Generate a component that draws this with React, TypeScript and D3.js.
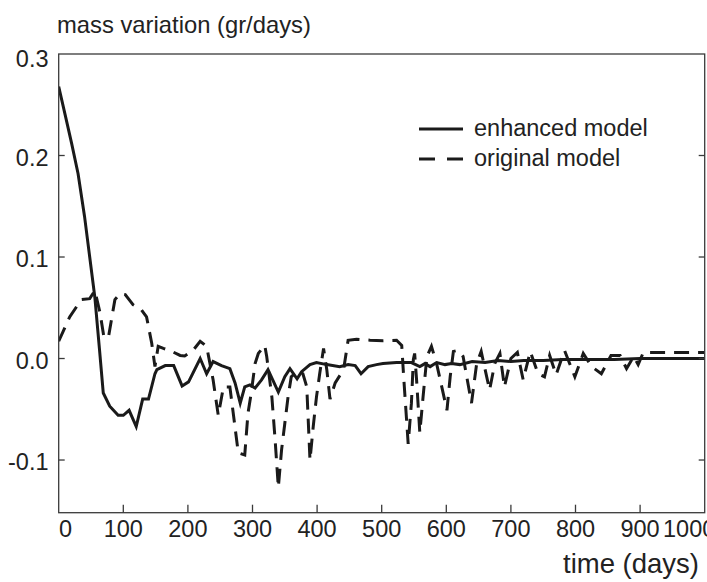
import React from "react";
import * as d3 from "d3";

const enhancedT = [0,10,20,30,40,48,56,63,69,79,92,100,109,120,130,139,149,152,165,178,191,201,219,229,239,252,265,273,281,288,296,304,314,324,340,350,358,369,376,389,399,415,435,448,459,468,479,492,502,523,546,559,567,575,585,598,608,621,640,660,680,700,720,750,780,820,860,900,950,1000];
const enhancedV = [0.268,0.24,0.212,0.182,0.14,0.10,0.06,0.01,-0.034,-0.047,-0.056,-0.056,-0.051,-0.067,-0.040,-0.040,-0.015,-0.011,-0.007,-0.007,-0.027,-0.023,0.0,-0.015,-0.003,-0.007,-0.010,-0.024,-0.044,-0.028,-0.026,-0.029,-0.021,-0.011,-0.033,-0.018,-0.010,-0.020,-0.013,-0.006,-0.004,-0.006,-0.008,-0.006,-0.007,-0.015,-0.008,-0.006,-0.005,-0.004,-0.004,-0.008,-0.005,-0.008,-0.004,-0.006,-0.005,-0.006,-0.003,-0.004,-0.002,-0.003,-0.002,-0.002,-0.001,-0.001,-0.001,0.0,0.0,0.0];

const originalT = [0,17,35,48,56,64,70,77,87,95,103,115,128,136,144,149,154,162,172,188,195,208,219,229,239,247,255,265,278,288,293,298,304,309,319,322,330,335,340,345,350,355,360,370,378,384,389,394,399,404,410,415,420,428,441,448,461,482,502,523,531,534,541,546,549,551,554,559,564,570,577,585,593,601,606,611,618,626,639,647,654,667,675,683,690,700,710,719,730,742,752,760,770,783,799,812,825,840,855,869,879,890,897,905,1000];
const originalV = [0.017,0.041,0.058,0.059,0.067,0.045,0.021,0.021,0.058,0.064,0.063,0.053,0.048,0.041,0.015,-0.008,0.012,0.010,0.008,0.003,0.0025,0.008,0.017,0.012,-0.021,-0.056,-0.028,-0.028,-0.093,-0.095,-0.054,-0.034,-0.005,0.005,0.013,0.002,-0.038,-0.08,-0.127,-0.09,-0.064,-0.038,-0.018,-0.012,-0.015,-0.028,-0.1,-0.067,-0.038,-0.015,0.010,-0.011,-0.040,-0.024,-0.011,0.018,0.019,0.018,0.0175,0.018,0.013,-0.018,-0.084,-0.044,-0.001,0.005,-0.021,-0.073,-0.038,0.002,0.012,-0.005,-0.028,-0.051,-0.018,0.007,0.008,0.002,-0.044,-0.005,0.007,-0.031,-0.005,0.005,-0.028,0.0,0.006,-0.021,0.007,-0.015,-0.018,0.003,-0.016,0.008,-0.018,0.005,-0.008,-0.015,0.003,0.003,-0.010,0.002,-0.006,0.006,0.006];

const xTicks = [0,100,200,300,400,500,600,700,800,900,1000];
const yTicks = [0.3,0.2,0.1,0.0,-0.1];
const yTickLabels = ["0.3","0.2","0.1","0.0","-0.1"];
const seriesNames = ["enhanced model","original model"];

const FONT = "'Liberation Sans', Arial, Helvetica, sans-serif";

export default function App() {
  const W = 707, H = 582;
  const left = 58.7, right = 704.7, top = 54, bottom = 512.7;
  const x = d3.scaleLinear().domain([0, 1000]).range([left, right]);
  const y = d3.scaleLinear().domain([-0.1519, 0.3]).range([bottom, top]);
  const line = d3.line<[number, number]>().x(d => x(d[0])).y(d => y(d[1]));
  const enh = enhancedT.map((t, i) => [t, enhancedV[i]] as [number, number]);
  const orig = originalT.map((t, i) => [t, originalV[i]] as [number, number]);
  const axisColor = "#3a3a3a";
  const lineColor = "#1a1a1a";
  const fs = 23.5;
  return (
    <svg width={W} height={H} style={{ position: "absolute", left: 0, top: 0, background: "#fff" }} fontFamily={FONT}>
      <rect x={0} y={0} width={W} height={H} fill="#fff" />
      <defs>
        <clipPath id="plotclip">
          <rect x={left} y={top} width={right - left} height={bottom - top} />
        </clipPath>
      </defs>
      <g clipPath="url(#plotclip)">
        <path d={line(orig) || ""} fill="none" stroke={lineColor} strokeWidth={3} strokeDasharray="15,9" strokeLinejoin="miter" />
        <path d={line(enh) || ""} fill="none" stroke={lineColor} strokeWidth={3} strokeLinejoin="miter" />
      </g>
      <rect x={left} y={top} width={right - left} height={bottom - top} fill="none" stroke={axisColor} strokeWidth={1.3} />
      {yTicks.slice(1).map(v => (
        <g key={"yt" + v}>
          <line x1={left} x2={left + 6} y1={y(v)} y2={y(v)} stroke={axisColor} strokeWidth={1.3} />
          <line x1={right - 6} x2={right} y1={y(v)} y2={y(v)} stroke={axisColor} strokeWidth={1.3} />
        </g>
      ))}
      {yTicks.map((v, i) => (
        <text key={"yl" + v} x={48.5} y={i === 0 ? 66.5 : y(v) + 10} textAnchor="end" fontSize={fs} fill="#222">{yTickLabels[i]}</text>
      ))}
      {xTicks.slice(1, -1).map(t => (
        <line key={"xt" + t} x1={x(t)} x2={x(t)} y1={bottom} y2={bottom - 8} stroke={axisColor} strokeWidth={1.3} />
      ))}
      {xTicks.map((t, i) => (
        <text key={"xl" + t} x={i === 0 ? 59 : i === xTicks.length - 1 ? 663 : x(t)} y={537}
          textAnchor={i === 0 || i === xTicks.length - 1 ? "start" : "middle"} fontSize={fs} fill="#222">{t}</text>
      ))}
      <text x={57} y={33} fontSize={23.8} fill="#222">mass variation (gr/days)</text>
      <text x={699} y={573} textAnchor="end" fontSize={27.5} fill="#222">time (days)</text>
      <line x1={419} x2={463} y1={129} y2={129} stroke={lineColor} strokeWidth={3} />
      <text x={474} y={135.5} fontSize={fs} fill="#222">{seriesNames[0]}</text>
      <line x1={419} x2={463} y1={159} y2={159} stroke={lineColor} strokeWidth={3} strokeDasharray="16,12" />
      <text x={474} y={165.5} fontSize={fs} fill="#222">{seriesNames[1]}</text>
    </svg>
  );
}
